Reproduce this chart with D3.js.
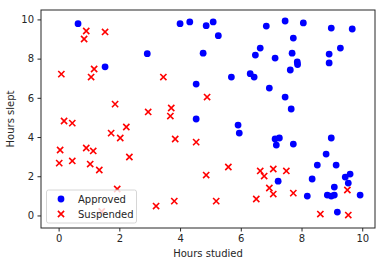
<!DOCTYPE html>
<html><head><meta charset="utf-8">
<script src="https://cdn.jsdelivr.net/npm/d3@7"></script>
<style>body{margin:0;background:#fff;}svg{display:block;font-family:"DejaVu Sans",sans-serif;}</style>
</head><body>
<script>
const approvedX = [0.64,1.53,2.92,4.0,4.32,4.86,5.09,5.26,4.76,5.69,6.31,6.44,4.53,4.53,
  6.84,7.46,8.06,8.98,9.67,7.73,6.64,6.48,7.13,7.69,7.86,7.87,7.63,8.91,8.91,9.28,6.94,7.46,7.66,
  5.91,5.95,7.13,7.27,7.17,7.73,8.98,8.81,8.52,9.14,9.44,9.60,9.54,7.23,8.35,9.08,8.19,8.85,8.98,9.08,9.93,9.18];
const approvedY = [9.78,7.58,8.25,9.78,9.87,9.68,9.87,9.17,8.28,7.06,7.23,7.06,6.70,4.92,
  9.66,9.92,9.82,9.56,9.51,9.05,8.54,8.18,8.03,8.28,7.83,7.70,7.42,8.23,7.78,8.54,6.50,6.04,5.43,
  4.61,4.20,3.90,3.95,3.59,3.64,3.95,3.13,2.57,2.57,1.96,2.11,1.65,1.75,1.86,1.45,0.99,1.04,0.99,1.04,1.04,0.17];
const suspendedX = [0.91,1.53,0.84,0.09,1.17,1.07,1.86,2.95,0.18,3.45,4.89,3.71,3.68,
  0.45,2.23,1.73,2.03,0.05,0.91,1.14,2.33,0.02,0.45,1.04,1.34,1.93,1.42,
  3.84,4.53,5.59,4.86,3.81,3.21,5.19,6.64,6.77,7.07,7.50,6.94,7.07,6.51,7.73,9.51,8.62,9.54];
const suspendedY = [9.41,9.36,9.0,7.21,7.47,7.06,5.68,5.28,4.82,7.06,6.04,5.48,5.07,
  4.71,4.51,4.20,3.95,3.34,3.44,3.29,2.98,2.67,2.78,2.62,2.32,1.35,0.20,
  3.90,3.74,2.47,2.06,0.73,0.48,0.73,2.27,2.01,2.37,2.27,1.40,1.09,0.84,1.14,1.30,0.07,0.02];
const xTicks = [0,2,4,6,8,10];
const yTicks = [0,2,4,6,8,10];
const seriesNames = ["Approved","Suspended"];

const W=386,H=266;
const m={l:41,r:11,t:10,b:38};
const svg=d3.select("body").append("svg").attr("width",W).attr("height",H);
const x=d3.scaleLinear().domain([-0.58,10.42]).range([m.l,W-m.r]);
const y=d3.scaleLinear().domain([-0.64,10.48]).range([H-m.b,m.t]);

const gx=svg.append("g").attr("transform",`translate(0,${H-m.b})`)
  .call(d3.axisBottom(x).tickValues(xTicks).tickSize(3.5).tickPadding(3.5).tickFormat(d3.format("d")));
const gy=svg.append("g").attr("transform",`translate(${m.l},0)`)
  .call(d3.axisLeft(y).tickValues(yTicks).tickSize(3.5).tickPadding(3.5).tickFormat(d3.format("d")));
[gx,gy].forEach(g=>{g.select(".domain").remove();
  g.selectAll("text").attr("font-size",10).attr("fill","#262626").attr("font-family","DejaVu Sans");
  g.selectAll("line").attr("stroke","#262626");});

const pts=svg.append("g");
pts.selectAll("circle").data(approvedX.map((v,i)=>[v,approvedY[i]])).join("circle")
  .attr("cx",d=>x(d[0])).attr("cy",d=>y(d[1])).attr("r",3.4).attr("fill","#0000ff");
const s=3.1;
pts.selectAll("path.x").data(suspendedX.map((v,i)=>[v,suspendedY[i]])).join("path").attr("class","x")
  .attr("d",d=>{const cx=x(d[0]),cy=y(d[1]);return `M${cx-s},${cy-s}L${cx+s},${cy+s}M${cx-s},${cy+s}L${cx+s},${cy-s}`;})
  .attr("stroke","#ff0000").attr("stroke-width",1.6).attr("fill","none");

svg.append("rect").attr("x",m.l).attr("y",m.t).attr("width",W-m.l-m.r).attr("height",H-m.t-m.b)
  .attr("fill","none").attr("stroke","#262626").attr("stroke-width",1);

svg.append("text").attr("x",(m.l+W-m.r)/2).attr("y",257).attr("text-anchor","middle")
  .attr("font-size",10).attr("fill","#262626").text("Hours studied");
svg.append("text").attr("transform",`translate(14,${(m.t+H-m.b)/2}) rotate(-90)`).attr("text-anchor","middle")
  .attr("font-size",10).attr("fill","#262626").text("Hours slept");

const lg=svg.append("g");
lg.append("rect").attr("x",46.5).attr("y",190).attr("width",90).attr("height",33).attr("rx",2)
  .attr("fill","#fff").attr("fill-opacity",0.8).attr("stroke","#cccccc").attr("stroke-width",0.8);
lg.append("circle").attr("cx",61).attr("cy",199).attr("r",3.4).attr("fill","#0000ff");
lg.append("path").attr("d",`M${61-s},${214-s}L${61+s},${214+s}M${61-s},${214+s}L${61+s},${214-s}`)
  .attr("stroke","#ff0000").attr("stroke-width",1.6);
lg.selectAll("text.l").data(seriesNames).join("text").attr("class","l")
  .attr("x",78).attr("y",(d,i)=>199+i*15.3).attr("dy","0.35em").attr("font-size",10).attr("fill","#262626").text(d=>d);
</script>
</body></html>
